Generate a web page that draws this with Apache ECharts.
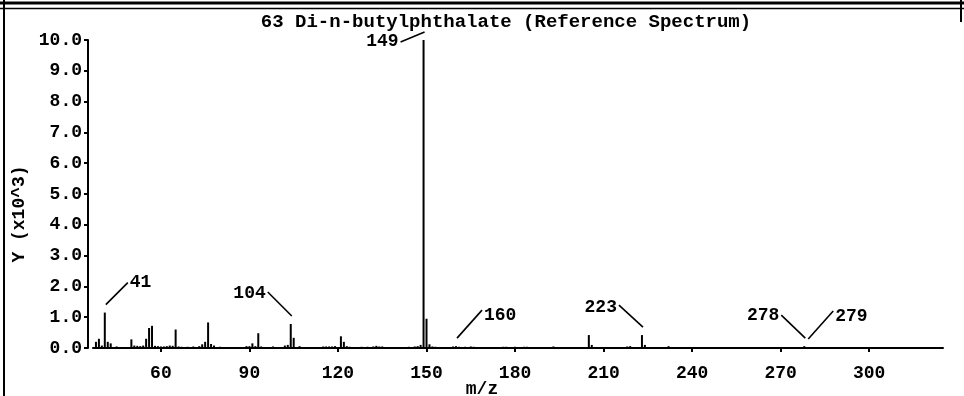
<!DOCTYPE html>
<html>
<head>
<meta charset="utf-8">
<script src="https://cdn.jsdelivr.net/npm/echarts@6/dist/echarts.min.js"></script>
<style>
  html, body { margin: 0; padding: 0; background: #fff; }
  #chart { width: 964px; height: 396px; }
</style>
</head>
<body>
<div id="chart"></div>
<script>
// ---- data ----
const titleText = '63 Di-n-butylphthalate (Reference Spectrum)';
const xName = 'm/z';
const yName = 'Y (x10^3)';
const mzValues = [
  38, 39, 40, 41, 42, 43, 45,
  50, 51, 52, 53, 54, 55, 56, 57, 58, 59, 60, 61, 62, 63, 64, 65, 66, 67, 69,
  71, 73, 74, 75, 76, 77, 78, 80,
  89, 90, 91, 92, 93, 94, 98, 102, 103, 104, 105, 107,
  115, 116, 117, 118, 119, 121, 122, 123, 124, 128, 130, 132, 133, 134, 135,
  144, 146, 147, 148, 149, 150, 151, 152, 153,
  159, 160, 161, 163, 165, 166, 176, 177, 180, 183, 184, 193,
  205, 206, 218, 219, 223, 224, 232, 278, 279
];
const intensities = [
  200, 300, 80, 1150, 200, 150, 50,
  280, 80, 70, 60, 80, 300, 650, 720, 70, 60, 50, 50, 60, 80, 70, 600, 50, 40, 40,
  50, 60, 120, 200, 830, 130, 80, 40,
  60, 60, 150, 60, 480, 50, 50, 80, 100, 780, 330, 60,
  50, 50, 50, 50, 60, 380, 200, 60, 40, 40, 40, 50, 70, 50, 50,
  40, 50, 60, 100, 10000, 950, 120, 50, 40,
  50, 60, 40, 40, 50, 40, 40, 40, 40, 40, 40, 50,
  420, 100, 50, 60, 420, 100, 60, 60, 30
];
const labeledPeaks = [41, 104, 149, 160, 223, 278, 279];
const xTickValues = [60, 90, 120, 150, 180, 210, 240, 270, 300];

// ---- leader-line styling for each labeled peak (offsets in px) ----
const leaderStyle = {
  41:  { dx: 22,  dy: -22, align: 'left',  ty: 0 },
  104: { dx: -24, dy: -24, align: 'right', ty: 1 },
  149: { dx: -24, dy: 10,  align: 'right', ty: -1 },
  160: { dx: 25,  dy: -28, align: 'left',  ty: 5 },
  223: { dx: -24, dy: -22, align: 'right', ty: 2 },
  278: { dx: -24, dy: -23, align: 'right', ty: 0 },
  279: { dx: 25,  dy: -28, align: 'left',  ty: 5 }
};

const FONT = '"Liberation Mono", "DejaVu Sans Mono", monospace';

const barData = mzValues.map((m, i) => [m, intensities[i]]);
const labelData = labeledPeaks.map(m => [m, intensities[mzValues.indexOf(m)]]);

const chart = echarts.init(document.getElementById('chart'), null, { renderer: 'canvas' });

chart.setOption({
  animation: false,
  backgroundColor: '#fff',
  title: {
    text: titleText,
    left: 501,
    top: 8,
    textAlign: 'center',
    textStyle: { fontFamily: FONT, fontSize: 19, fontWeight: 'bold', color: '#000' }
  },
  graphic: [
    { type: 'line', shape: { x1: 0, y1: 3, x2: 964, y2: 3 }, style: { stroke: '#000', lineWidth: 3 } },
    { type: 'line', shape: { x1: 0, y1: 8.5, x2: 964, y2: 8.5 }, style: { stroke: '#000', lineWidth: 1.5 } },
    { type: 'line', shape: { x1: 4, y1: 0, x2: 4, y2: 396 }, style: { stroke: '#000', lineWidth: 2 } },
    { type: 'line', shape: { x1: 961, y1: 0, x2: 961, y2: 22 }, style: { stroke: '#000', lineWidth: 2 } }
  ],
  grid: { left: 93, right: 21, top: 40, bottom: 48, containLabel: false, outerBoundsMode: 'none' },
  xAxis: {
    type: 'value',
    min: 37,
    max: 325,
    offset: 6,
    name: xName,
    nameLocation: 'middle',
    nameGap: 26,
    nameMoveOverlap: false,
    nameTextStyle: { fontFamily: FONT, fontSize: 18, fontWeight: 'bold', color: '#000', padding: [0, 72, 0, 0] },
    axisLine: { show: true, lineStyle: { color: '#000', width: 2 } },
    axisTick: { show: true, length: 4, customValues: xTickValues, lineStyle: { color: '#000', width: 2 } },
    axisLabel: {
      customValues: xTickValues,
      margin: 10,
      fontFamily: FONT, fontSize: 18, fontWeight: 'bold', color: '#000'
    },
    splitLine: { show: false }
  },
  yAxis: {
    type: 'value',
    min: 0,
    max: 10000,
    interval: 1000,
    offset: 5,
    name: yName,
    nameLocation: 'middle',
    nameGap: 60,
    nameMoveOverlap: false,
    nameTextStyle: { fontFamily: FONT, fontSize: 18, fontWeight: 'bold', color: '#000', padding: [0, 40, 0, 0] },
    axisLine: { show: true, lineStyle: { color: '#000', width: 2 } },
    axisTick: { show: true, length: 4, lineStyle: { color: '#000', width: 2 } },
    axisLabel: {
      margin: 6,
      formatter: v => (v / 1000).toFixed(1),
      fontFamily: FONT, fontSize: 18, fontWeight: 'bold', color: '#000'
    },
    splitLine: { show: false }
  },
  series: [
    {
      type: 'bar',
      data: barData,
      barWidth: 2,
      itemStyle: { color: '#000' },
      silent: true
    },
    {
      type: 'custom',
      data: labelData,
      clip: false,
      silent: true,
      encode: { x: 0, y: 1 },
      renderItem: function (params, api) {
        const mz = api.value(0);
        const v = api.value(1);
        const p = api.coord([mz, v]);
        const st = leaderStyle[mz];
        const x1 = p[0] + 1, y1 = p[1] - 8;
        const x2 = x1 + st.dx, y2 = y1 + st.dy;
        const tx = st.align === 'left' ? x2 + 2 : x2 - 2;
        return {
          type: 'group',
          children: [
            { type: 'line', shape: { x1: x1, y1: y1, x2: x2, y2: y2 }, style: { stroke: '#000', lineWidth: 1.6 } },
            { type: 'text', x: tx, y: y2 + st.ty,
              style: { text: String(mz), font: 'bold 18px ' + FONT, fill: '#000', align: st.align, verticalAlign: 'middle' } }
          ]
        };
      }
    }
  ]
});
</script>
</body>
</html>
